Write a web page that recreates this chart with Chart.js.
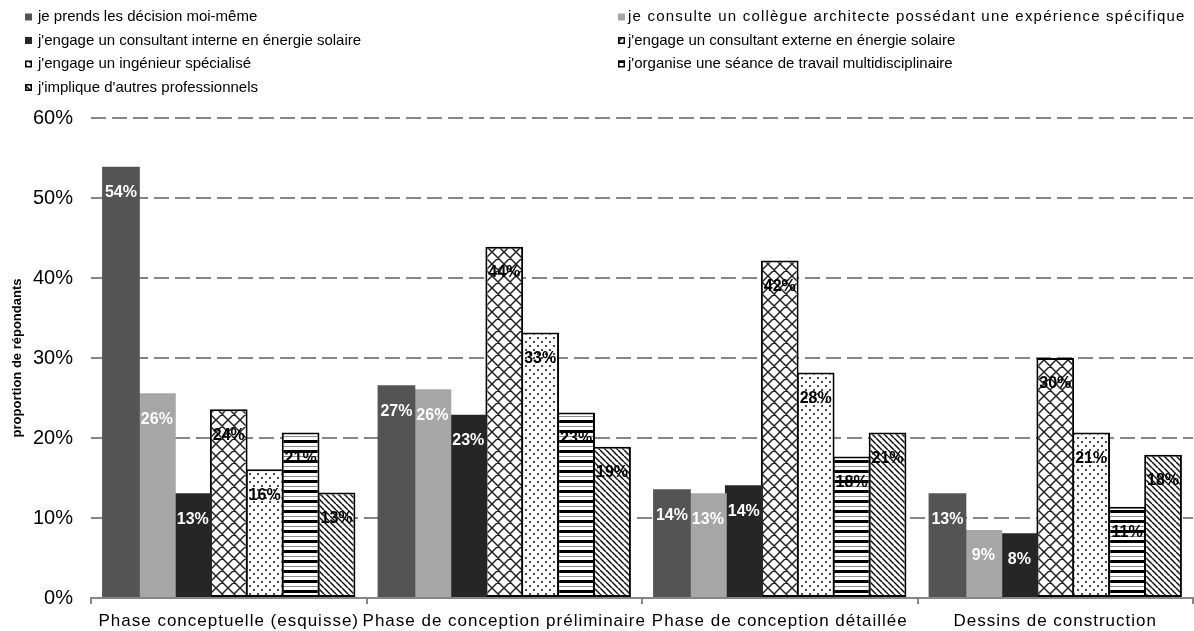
<!DOCTYPE html>
<html>
<head>
<meta charset="utf-8">
<script src="https://cdn.jsdelivr.net/npm/chart.js@4.4.1/dist/chart.umd.min.js"></script>
<style>
   body { margin: 0; background: #fff; }
   #wrap { width: 1194px; height: 631px; }
</style>
</head>
<body>
<div id="wrap"><canvas id="chart1" width="1194" height="631"></canvas></div>
<script>
// phases of the design process
const phases = [
   "Phase conceptuelle (esquisse)",
   "Phase de conception préliminaire",
   "Phase de conception détaillée",
   "Dessins de construction",
];

const seriesNames = [
   "je prends les décision moi-même",
   "je consulte un collègue architecte possédant une expérience spécifique",
   "j'engage un consultant interne en énergie solaire",
   "j'engage un consultant externe en énergie solaire",
   "j'engage un ingénieur spécialisé",
   "j'organise une séance de travail multidisciplinaire",
   "j'implique d'autres professionnels",
];

// % of respondents, one value per phase
const decideSelf = [53.9, 26.6, 13.6, 13.1];
const askColleague = [25.6, 26.1, 13.1, 8.5];
const internalConsultant = [13.1, 22.9, 14.1, 8.1];
const externalConsultant = [23.6, 43.9, 42.2, 30.0];
const specialistEngineer = [16.1, 33.2, 28.2, 20.7];
const workshop = [20.7, 23.2, 17.7, 11.4];
const otherProfessionals = [13.2, 18.9, 20.7, 17.9];

const yMax = 60;
const yStep = 10;

const fontFamily = `'Liberation Sans', Arial, sans-serif`;
const gridGray = `#868686`;

const canva = document.querySelector("#chart1");
const ctx = canva.getContext("2d");

function makePattern(size, paint) {
   const tile = document.createElement("canvas");
   tile.width = size;
   tile.height = size;
   const c = tile.getContext("2d");
   c.fillStyle = "#fff";
   c.fillRect(0, 0, size, size);
   paint(c, size);
   return ctx.createPattern(tile, "repeat");
}

const crossPattern = makePattern(12, (c, s) => {
   c.strokeStyle = "#222";
   c.lineWidth = 1.5;
   c.beginPath();
   for (const dx of [-s, 0, s]) {
      c.moveTo(dx, 0);
      c.lineTo(dx + s, s);
      c.moveTo(dx + s, 0);
      c.lineTo(dx, s);
   }
   c.stroke();
});

const dotPattern = makePattern(8, (c) => {
   c.fillStyle = "#222";
   c.beginPath();
   c.arc(2, 2, 1.1, 0, Math.PI * 2);
   c.arc(6, 6, 1.1, 0, Math.PI * 2);
   c.fill();
});

const stripePattern = makePattern(10, (c, s) => {
   c.fillStyle = "#000";
   c.fillRect(0, 0, s, 3);
   c.fillStyle = "#8a8a8a";
   c.fillRect(0, 6, s, 1);
});

const diagPattern = makePattern(6, (c, s) => {
   c.strokeStyle = "#111";
   c.lineWidth = 1.5;
   c.beginPath();
   for (const dx of [-s, 0, s]) {
      c.moveTo(dx, 0);
      c.lineTo(dx + s, s);
   }
   c.stroke();
});

const seriesValues = [
   decideSelf, askColleague, internalConsultant,
   externalConsultant, specialistEngineer, workshop, otherProfessionals,
];
const fills = [`#545454`, `#a6a6a6`, `#262626`, crossPattern, dotPattern, stripePattern, diagPattern];

function buildDatasets() {
   return seriesValues.map((values, i) => {
      const patterned = i > 2;
      return {
         label: seriesNames[i],
         data: values,
         backgroundColor: fills[i],
         borderColor: "#000",
         borderWidth: patterned ? 2 : 0,
         borderSkipped: false,
         categoryPercentage: 0.913,
         barPercentage: 1.05,
      };
   });
}

// percentages written inside the top of each bar
const valueLabels = {
   id: "valueLabels",
   afterDatasetsDraw(chart) {
      const c = chart.ctx;
      c.save();
      c.font = `bold 16px ${fontFamily}`;
      c.textAlign = "center";
      c.textBaseline = "middle";
      chart.data.datasets.forEach((ds, i) => {
         const meta = chart.getDatasetMeta(i);
         c.fillStyle = i < 3 ? "#fff" : "#000";
         meta.data.forEach((bar, j) => {
            c.fillText(`${Math.round(ds.data[j])}%`, bar.x, bar.y + 26);
         });
      });
      c.restore();
   }
};

// two-column legend above the plot
const sideLegend = {
   id: "sideLegend",
   afterDraw(chart) {
      const c = chart.ctx;
      const boxX = [25, 618];
      const textX = [38, 628];
      const rowY = [17, 40.5, 64, 87.5];
      c.save();
      c.font = `15px ${fontFamily}`;
      c.textBaseline = "middle";
      c.textAlign = "left";
      chart.data.datasets.forEach((ds, i) => {
         const col = i % 2;
         const x = boxX[col];
         const y = rowY[Math.floor(i / 2)];
         c.fillStyle = ds.backgroundColor;
         c.fillRect(x, y - 3.5, 7, 7);
         if (i > 2) {
            c.strokeStyle = "#000";
            c.lineWidth = 1.5;
            c.strokeRect(x + 0.75, y - 2.75, 5.5, 5.5);
         }
         c.fillStyle = "#000";
         // the long second entry is set a little wider
         c.letterSpacing = i === 1 ? "1.2px" : "0px";
         c.fillText(ds.label, textX[col], y);
      });
      c.letterSpacing = "0px";
      c.restore();
   }
};

// category labels are drawn slightly letter-spaced
const spacedLabels = {
   id: "spacedLabels",
   beforeDraw(chart) {
      const xs = chart.scales.x;
      if (xs._spaced) return;
      const orig = xs.drawLabels;
      xs.drawLabels = function (area) {
         this.ctx.save();
         this.ctx.letterSpacing = "1px";
         orig.call(this, area);
         this.ctx.letterSpacing = "0px";
         this.ctx.restore();
      };
      xs._spaced = true;
   }
};

const chart = new Chart(ctx, {
   type: "bar",
   data: {
      labels: phases,
      datasets: buildDatasets(),
   },
   options: {
      responsive: false,
      animation: false,
      layout: {
         padding: { top: 118, right: 1, left: 0, bottom: 0 }
      },
      plugins: {
         legend: { display: false },
         tooltip: { enabled: false },
      },
      scales: {
         x: {
            offset: true,
            grid: {
               display: true,
               offset: true,
               drawOnChartArea: false,
               drawTicks: true,
               tickLength: 6,
               color: gridGray,
               lineWidth: 2,
            },
            border: { display: true, color: gridGray, width: 2 },
            ticks: {
               color: "#000",
               font: { family: fontFamily, size: 17 },
               padding: 7,
               maxRotation: 0,
               autoSkip: false,
            },
            afterFit: (scale) => { scale.height = 33; },
         },
         y: {
            min: 0,
            max: yMax,
            grid: {
               color: gridGray,
               lineWidth: 2,
               drawTicks: false,
            },
            border: { display: false, dash: [15, 6] },
            ticks: {
               stepSize: yStep,
               color: "#000",
               padding: 18,
               font: { family: fontFamily, size: 20 },
               callback: (v) => `${v}%`,
            },
            title: {
               display: true,
               text: "proportion de répondants",
               color: "#000",
               font: { family: fontFamily, size: 13, weight: "bold" },
               padding: { top: 10, bottom: 0 },
            },
            afterFit: (scale) => { scale.width = 91; },
         }
      }
   },
   plugins: [valueLabels, sideLegend, spacedLabels],
});
</script>
</body>
</html>
